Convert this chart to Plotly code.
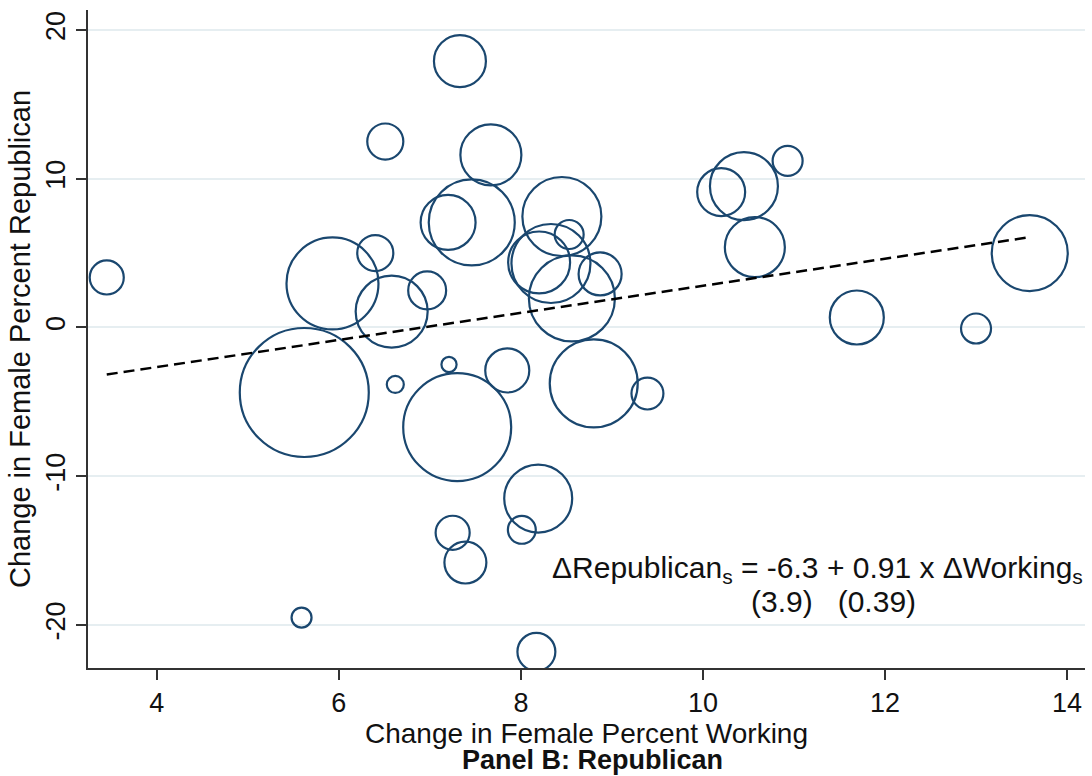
import math
import plotly.graph_objects as go

# State-level changes: female percent working (x) vs. female percent Republican (y)
work_change = [3.45, 7.33, 6.51, 7.67, 10.93, 10.45, 10.20, 8.45, 7.20, 7.46,
               8.53, 10.57, 6.40, 13.59, 8.20, 8.33, 8.87, 8.56, 5.93, 6.97,
               6.58, 11.69, 13.00, 5.62, 6.62, 7.21, 7.85, 7.30, 8.80, 9.39,
               8.19, 7.25, 8.01, 7.39, 5.59, 8.17]
rep_change = [3.36, 17.9, 12.5, 11.6, 11.2, 9.5, 9.1, 7.46, 7.06, 7.06,
              6.25, 5.4, 5.0, 5.0, 4.37, 4.3, 3.6, 1.95, 2.96, 2.49,
              1.07, 0.67, -0.07, -4.37, -3.83, -2.49, -2.89, -6.7, -3.76, -4.44,
              -11.5, -13.8, -13.6, -15.8, -19.5, -21.8]
# State weights (bubble area is proportional to weight)
weight = [11.6, 27.0, 13.0, 37.2, 9.0, 46.2, 23.0, 62.4, 30.2, 74.0,
          8.4, 36.0, 13.0, 57.8, 38.4, 62.4, 18.5, 74.0, 84.6, 14.4,
          51.8, 29.2, 9.0, 166.4, 2.9, 2.3, 19.4, 116.6, 77.4, 10.2,
          46.2, 11.6, 7.8, 17.6, 4.0, 14.4]

# Weighted regression estimates (standard errors in parentheses)
intercept, slope = -6.3, 0.91
intercept_se, slope_se = 3.9, 0.39

x_ticks = [4, 6, 8, 10, 12, 14]
y_ticks = [-20, -10, 0, 10, 20]

navy = "#1a476f"
axis_col = "#333333"
font_family = "Arial, 'Liberation Sans', sans-serif"

# bubble diameter grows with the square root of the weight (area-proportional)
bubble_px = [10 * math.sqrt(w) for w in weight]

fig = go.Figure()

fig.add_trace(go.Scatter(
    x=work_change, y=rep_change, mode="markers",
    marker=dict(size=bubble_px, sizemode="diameter", opacity=1,
                color="rgba(0,0,0,0)", line=dict(color=navy, width=2.2)),
    hoverinfo="x+y", showlegend=False,
))

x_lo, x_hi = min(work_change), max(work_change)
fig.add_trace(go.Scatter(
    x=[x_lo, x_hi],
    y=[intercept + slope * x_lo, intercept + slope * x_hi],
    mode="lines",
    line=dict(color="black", width=2.5, dash="11px,6px"),
    hoverinfo="skip", showlegend=False,
))

fig.update_layout(
    width=1092, height=776,
    margin=dict(l=88, r=7, t=10, b=108),
    paper_bgcolor="white", plot_bgcolor="white",
    font=dict(family=font_family, color="#111111"),
    xaxis=dict(
        range=[3.244, 14.197], tickvals=x_ticks,
        ticktext=[str(v) for v in x_ticks],
        showline=True, linecolor=axis_col, linewidth=1.5,
        ticks="outside", ticklen=10, tickwidth=1.5, tickcolor=axis_col,
        showgrid=False, zeroline=False,
        tickfont=dict(size=27),
        title=dict(text="Change in Female Percent Working",
                   font=dict(size=28), standoff=0),
    ),
    yaxis=dict(
        range=[-22.89, 21.34], tickvals=y_ticks,
        ticktext=[str(v) for v in y_ticks], tickangle=-90,
        showline=True, linecolor=axis_col, linewidth=1.5,
        ticks="outside", ticklen=10, tickwidth=1.5, tickcolor=axis_col,
        showgrid=True, gridcolor="#e6eef1", gridwidth=2, zeroline=False,
        tickfont=dict(size=27),
        title=dict(text="Change in Female Percent Republican",
                   font=dict(size=29), standoff=2),
    ),
)

eq_line1 = (f"\u0394Republican<sub>s</sub> = {intercept} + {slope} x "
            f"\u0394Working<sub>s</sub>")
eq_line2 = f"({intercept_se})   ({slope_se})"

fig.add_annotation(
    x=1.0, y=-16.3, xref="paper", yref="y", xanchor="right", yanchor="middle",
    text=eq_line1, showarrow=False, font=dict(size=30),
)
fig.add_annotation(
    x=11.43, y=-18.4, xref="x", yref="y", xanchor="center", yanchor="middle",
    text=eq_line2, showarrow=False, font=dict(size=30),
)
fig.add_annotation(
    x=0.506, y=0, xref="paper", yref="paper", xanchor="center", yanchor="bottom",
    yshift=-108, text="<b>Panel B: Republican</b>", showarrow=False,
    font=dict(size=27), borderpad=0,
)

fig.write_html("out.html")
